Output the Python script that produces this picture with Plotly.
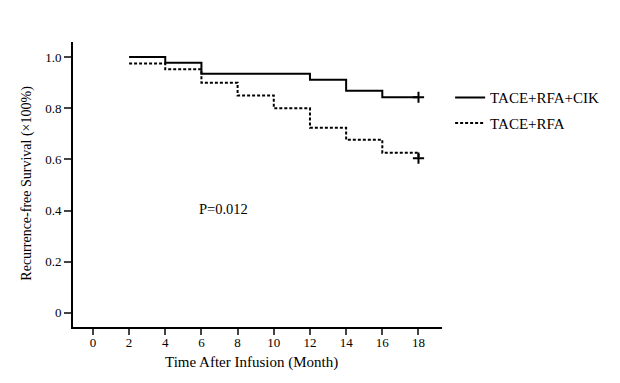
import plotly.graph_objects as go

# Data
months_cik = [2, 4, 6, 12, 14, 16, 18]
surv_cik = [1.0, 0.978, 0.935, 0.911, 0.868, 0.843, 0.843]
months_rfa = [2, 4, 6, 8, 10, 12, 14, 16, 18]
surv_rfa = [0.975, 0.952, 0.90, 0.85, 0.80, 0.724, 0.677, 0.626, 0.605]
censor_x = [18]
censor_cik = [0.843]
censor_rfa = [0.605]
x_ticks = [0, 2, 4, 6, 8, 10, 12, 14, 16, 18]
y_ticks = [0, 0.2, 0.4, 0.6, 0.8, 1.0]
y_ticklabels = ["0", "0.2", "0.4", "0.6", "0.8", "1.0"]

FONT = "Liberation Serif, Times New Roman, serif"

fig = go.Figure()
fig.add_trace(go.Scatter(x=months_cik, y=surv_cik, mode="lines", line_shape="hv",
                         line=dict(color="black", width=2), name="TACE+RFA+CIK", legendgroup="a"))
fig.add_trace(go.Scatter(x=months_rfa, y=surv_rfa, mode="lines", line_shape="hv",
                         line=dict(color="black", width=2, dash="3px,2px"), name="TACE+RFA", legendgroup="b"))
fig.add_trace(go.Scatter(x=censor_x, y=censor_cik, mode="markers", showlegend=False,
                         marker=dict(symbol="cross-thin", size=8, line=dict(color="black", width=2))))
fig.add_trace(go.Scatter(x=censor_x, y=censor_rfa, mode="markers", showlegend=False,
                         marker=dict(symbol="cross-thin", size=8, line=dict(color="black", width=2))))

fig.add_annotation(x=5.75, y=0.408, xref="x", yref="y", text="P=0.012", showarrow=False,
                   xanchor="left", yanchor="middle", font=dict(family=FONT, size=14.5, color="black"))

# axis titles
fig.add_annotation(x=0.484, y=-35 / 285, xref="paper", yref="paper", text="Time After Infusion (Month)",
                   showarrow=False, xanchor="center", yanchor="middle",
                   font=dict(family=FONT, size=15, color="black"))
fig.add_annotation(x=-46 / 369, y=0.503, xref="paper", yref="paper", text="Recurrence-free Survival (×100%)",
                   showarrow=False, xanchor="center", yanchor="middle", textangle=-90,
                   font=dict(family=FONT, size=14, color="black"))

fig.update_layout(
    width=612, height=375,
    margin=dict(l=65, r=178, t=34, b=56),
    paper_bgcolor="white", plot_bgcolor="white",
    font=dict(family=FONT, size=13, color="black"),
    showlegend=True,
    legend=dict(x=1.022, y=0.862, xanchor="left", yanchor="top",
                font=dict(family=FONT, size=15, color="black"),
                bgcolor="rgba(0,0,0,0)", itemwidth=30, tracegroupgap=3),
    xaxis=dict(range=[-1.1, 19.3], tickvals=x_ticks, ticks="outside", ticklen=6, tickwidth=2,
               showline=True, linecolor="black", linewidth=2, showgrid=False, zeroline=False,
               automargin=False, ticklabelstandoff=-4, tickfont=dict(family=FONT, size=13, color="black")),
    yaxis=dict(range=[-0.055, 1.059], tickvals=y_ticks, ticktext=y_ticklabels, ticks="outside", ticklen=7, tickwidth=2,
               showline=True, linecolor="black", linewidth=2, showgrid=False, zeroline=False,
               automargin=False, tickfont=dict(family=FONT, size=13, color="black")),
)

fig.write_html("out.html")
